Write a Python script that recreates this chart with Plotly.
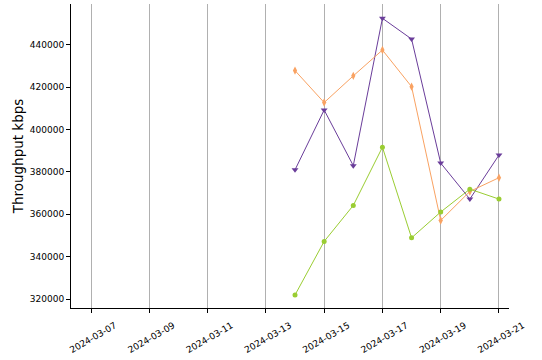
import plotly.graph_objects as go

dates = ["2024-03-14", "2024-03-15", "2024-03-16", "2024-03-17",
         "2024-03-18", "2024-03-19", "2024-03-20", "2024-03-21"]
purple_vals = [381000, 409300, 383000, 452600, 442800, 384200, 367200, 388000]
orange_vals = [427900, 412800, 425400, 437600, 420300, 357100, 370800, 377300]
green_vals = [321900, 347200, 364200, 391700, 348900, 361100, 371900, 367200]

tick_dates = ["2024-03-07", "2024-03-09", "2024-03-11", "2024-03-13",
              "2024-03-15", "2024-03-17", "2024-03-19", "2024-03-21"]
y_ticks = [320000, 340000, 360000, 380000, 400000, 420000, 440000]

fig = go.Figure()
fig.add_trace(go.Scatter(x=dates, y=purple_vals, mode="lines+markers",
                         line=dict(color="#6a3d9a", width=1),
                         marker=dict(symbol="triangle-down", size=6, color="#6a3d9a")))
fig.add_trace(go.Scatter(x=dates, y=orange_vals, mode="lines+markers",
                         line=dict(color="#f9a262", width=1),
                         marker=dict(symbol="diamond-tall", size=6, color="#f9a262")))
fig.add_trace(go.Scatter(x=dates, y=green_vals, mode="lines+markers",
                         line=dict(color="#9acd32", width=1),
                         marker=dict(symbol="circle", size=5, color="#9acd32")))

fig.update_layout(
    width=542, height=360,
    margin=dict(l=71, r=33, t=4, b=52),
    plot_bgcolor="white", paper_bgcolor="white",
    showlegend=False,
    font=dict(family="DejaVu Sans", color="black"),
    xaxis=dict(
        type="date",
        range=["2024-03-06 07:30", "2024-03-21 08:15"],
        tickvals=tick_dates, ticktext=tick_dates,
        tickangle=-30, tickfont=dict(size=9),
        ticklabelshift=24, ticklabelstandoff=4,
        ticks="outside", ticklen=4, tickcolor="black",
        showline=True, linecolor="black", linewidth=1,
        showgrid=True, gridcolor="#b0b0b0", gridwidth=1,
        zeroline=False,
    ),
    yaxis=dict(
        range=[315750, 459350],
        tickvals=y_ticks, ticktext=[str(v) for v in y_ticks],
        tickfont=dict(size=9),
        ticks="outside", ticklen=4, tickcolor="black",
        showline=True, linecolor="black", linewidth=1,
        showgrid=False, zeroline=False,
        title=dict(text="Throughput kbps", font=dict(size=13.5), standoff=3),
    ),
)

fig.write_html("out.html")
